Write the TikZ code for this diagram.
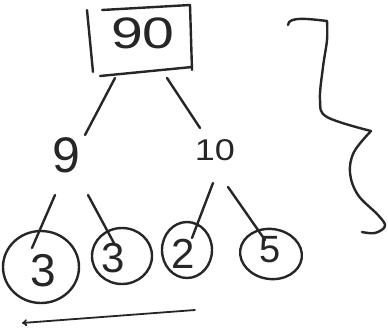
\documentclass[tikz,border=0pt]{standalone}
\usepackage{fontspec}
\setmainfont{Liberation Sans}
\usetikzlibrary{arrows.meta}
\tikzset{
  ink/.style={line width=2.4pt, line cap=round, line join=round, draw=black!85},
  lbl/.style={inner sep=0pt, text=black!85},
}
\begin{document}
\begin{tikzpicture}[x=1pt,y=-1pt]
\useasboundingbox (0,0) rectangle (388,333);
% root box
\node[lbl, font=\fontsize{44}{44}\selectfont, xscale=1.3] (root) at (143,33) {90};
\coordinate (b1) at (87,10);
\coordinate (b2) at (93,72);
\coordinate (b3) at (102,10);
\coordinate (b4) at (190,5);
\coordinate (b5) at (192,70);
\coordinate (b6) at (100,76);
\coordinate (b7) at (192,67);
\draw[ink] (b1) -- (b2);
\draw[ink] (b3) -- (b4) -- (b5);
\draw[ink] (b6) -- (b7);
% level 2
\node[lbl, font=\fontsize{50}{50}\selectfont] (n9) at (66,155) {9};
\node[lbl, font=\fontsize{30}{30}\selectfont, xscale=1.2] (n10) at (215,150) {10};
% leaves
\node[lbl, font=\fontsize{46}{46}\selectfont] (d1) at (43,271) {3};
\node[lbl, font=\fontsize{42}{42}\selectfont] (d2) at (113,258) {3};
\node[lbl, font=\fontsize{42}{42}\selectfont] (d3) at (183,254) {2};
\node[lbl, font=\fontsize{38}{38}\selectfont] (d4) at (270,250) {5};
\draw[ink] (41,267) ellipse [x radius=38, y radius=36];
\draw[ink] (122,256) ellipse [x radius=30, y radius=28];
\draw[ink] (187,250) ellipse [x radius=25, y radius=28];
\draw[ink, rotate around={-8:(271,254)}] (271,254) ellipse [x radius=31, y radius=25];
% connectors
\draw[ink] ([shift={(-28,45)}]root.center) -- ([shift={(19,-20)}]n9.center);
\draw[ink] ([shift={(24,45)}]root.center) -- ([shift={(-15,-22)}]n10.center);
\draw[ink] ([shift={(-11,40)}]n9.center) -- ([shift={(-11,-23)}]d1.center);
\draw[ink] ([shift={(22,40)}]n9.center) -- ([shift={(2,-13)}]d2.center);
\draw[ink] ([shift={(-2,33)}]n10.center) -- ([shift={(9,-16)}]d3.center);
\draw[ink] ([shift={(13,37)}]n10.center) -- ([shift={(-5,-10)}]d4.center);
% brace
\coordinate (br0) at (288,25);
\coordinate (br1) at (327,21);
\coordinate (br2) at (371,131);
\coordinate (br3) at (362,232);
\draw[ink] (br0) .. controls (288,16) and (310,19) .. (br1);
\draw[ink] plot[smooth, tension=0.6] coordinates {(br1) (327,40) (323,67) (320,100) (327,117) (br2)};
\draw[ink] plot[smooth, tension=0.6] coordinates {(br2) (354,152) (350,173) (358,195) (378,215) (385,226) (375,233) (br3)};
% arrow
\coordinate (ar0) at (195,310);
\coordinate (ar1) at (22,323);
\draw[ink, line width=1.8pt, -{To[length=5pt,width=7pt]}] (ar0) -- (ar1);
\end{tikzpicture}
\end{document}
